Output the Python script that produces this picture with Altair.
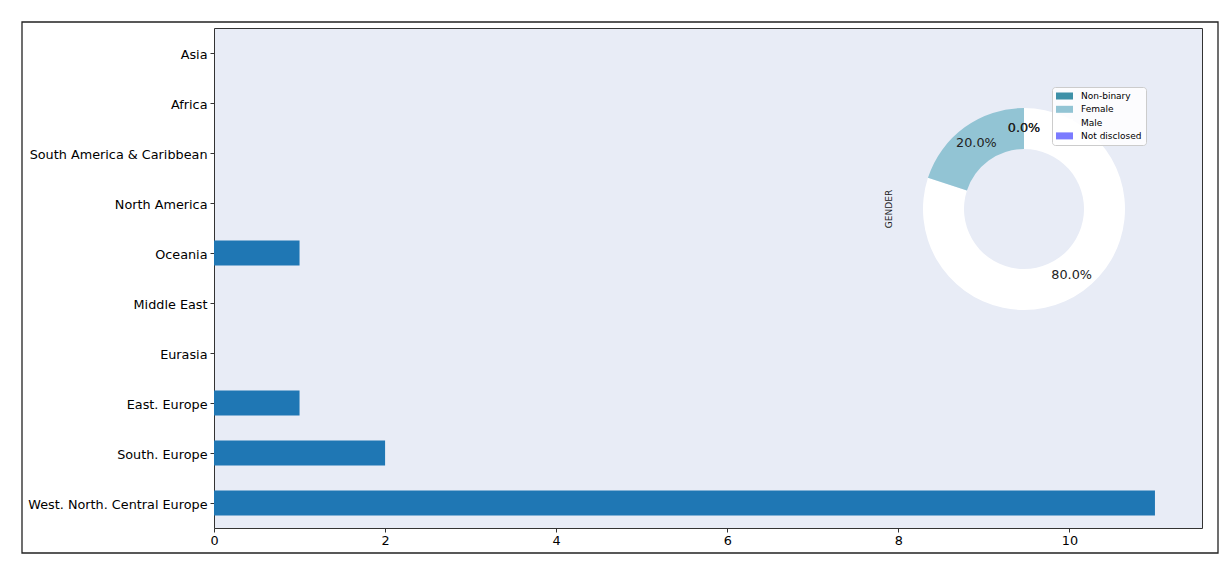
import altair as alt
import pandas as pd

regions = ["Asia", "Africa", "South America & Caribbean", "North America", "Oceania",
           "Middle East", "Eurasia", "East. Europe", "South. Europe", "West. North. Central Europe"]
counts = [0, 0, 0, 0, 1, 0, 0, 1, 2, 11]

genders = ["Male", "Female", "Non-binary", "Not disclosed"]
gender_pct = [80.0, 20.0, 0.0, 0.0]
gender_order = [1, 2, 3, 4]
legend_order = ["Non-binary", "Female", "Male", "Not disclosed"]
legend_colors = ["#3f91a8", "#92c4d4", "#ffffff", "#7b7bff"]

bars_df = pd.DataFrame({"region": regions, "count": counts})
pie_df = pd.DataFrame({"gender": genders, "pct": gender_pct, "ord": gender_order})
pie_df["label"] = pie_df["pct"].map(lambda v: f"{v:.1f}%")

FONT = "DejaVu Sans"

bars = alt.Chart(bars_df).mark_bar(color="#1f77b4").encode(
    y=alt.Y("region:N", sort=regions,
            scale=alt.Scale(paddingInner=0.5, paddingOuter=0.25),
            axis=alt.Axis(title=None, labelFontSize=12.8, labelColor="#000", tickColor="#333",
                          tickSize=4, labelPadding=3, domain=False, labelFont=FONT,
                          labelLimit=0, labelOffset=2)),
    x=alt.X("count:Q", scale=alt.Scale(domain=[0, 11.55], nice=False, zero=True),
            axis=alt.Axis(title=None, values=[0, 2, 4, 6, 8, 10], labelFontSize=12.8,
                          labelColor="#000", tickColor="#333", tickSize=4, grid=False,
                          domain=False, labelFont=FONT, labelPadding=2, labelFlush=False)),
)

CX, CY = 810, 181

arcs = alt.Chart(pie_df).mark_arc(outerRadius=101, innerRadius=60).encode(
    theta=alt.Theta("pct:Q", stack=True),
    order=alt.Order("ord:Q"),
    color=alt.Color("gender:N",
                    scale=alt.Scale(domain=legend_order, range=legend_colors),
                    legend=alt.Legend(title=None, orient="none", legendX=838, legendY=59,
                                      fillColor="rgba(255,255,255,0.85)", strokeColor="#cccccc",
                                      cornerRadius=3, padding=4, labelFontSize=9,
                                      labelFont=FONT, labelColor="#000",
                                      symbolType="M-1,-0.7L2.4,-0.7L2.4,0.7L-1,0.7Z",
                                      symbolSize=100, symbolStrokeWidth=0, symbolOpacity=1,
                                      rowPadding=3.3, labelOffset=15)),
    x=alt.value(CX),
    y=alt.value(CY),
)

pie_text = alt.Chart(pie_df).mark_text(radius=81, fontSize=12.8, font=FONT, color="#222").encode(
    theta=alt.Theta("pct:Q", stack=True),
    order=alt.Order("ord:Q"),
    text="label:N",
    x=alt.value(CX),
    y=alt.value(CY),
)

gender_label = alt.Chart(pd.DataFrame({"t": ["GENDER"]})).mark_text(
    angle=270, fontSize=9, font=FONT, color="#222").encode(
    text="t:N", x=alt.value(675), y=alt.value(181))

frame = alt.Chart(pd.DataFrame({"a": [0]})).mark_rect(
    fillOpacity=0, stroke="#222", strokeWidth=1.3).encode(
    x=alt.value(-192), x2=alt.value(1004), y=alt.value(-6), y2=alt.value(525))

chart = alt.layer(bars, arcs, pie_text, gender_label, frame).properties(
    width=988, height=500,
    autosize=alt.AutoSizeParams(type="none"),
    padding={"left": 206, "top": 20, "right": 20, "bottom": 40},
    background="white",
).configure_view(
    fill="#e8ecf6", stroke="#333", strokeWidth=1
)

chart.save("out.html", embed_options={"renderer": "svg", "actions": False})
